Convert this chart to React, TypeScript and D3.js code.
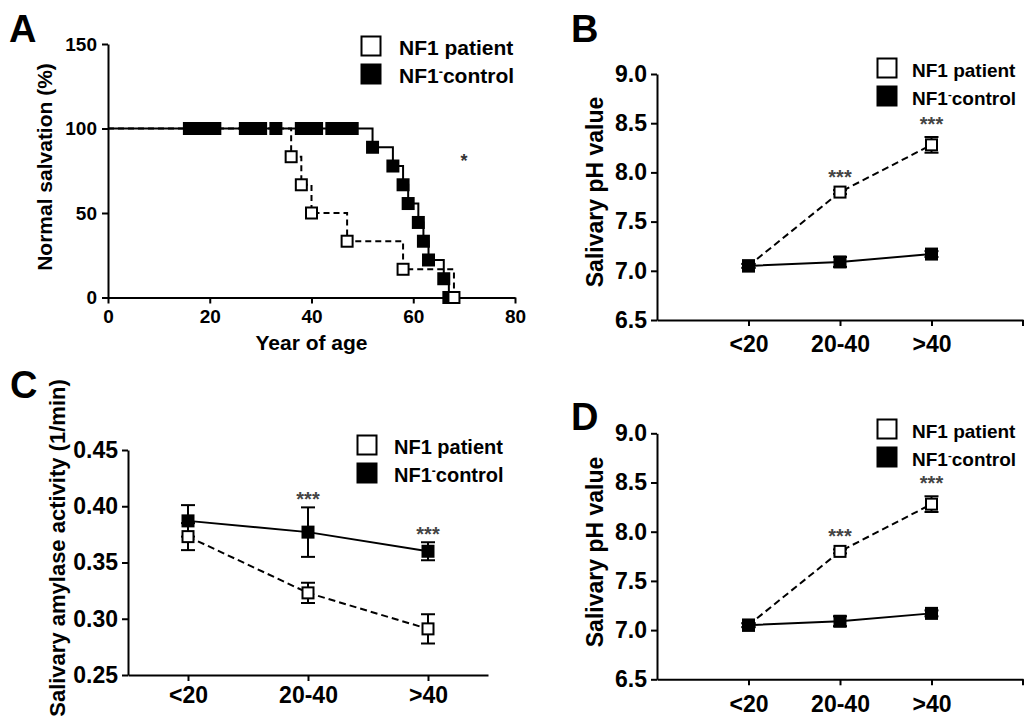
import React, { useEffect, useRef } from 'react'
import * as d3 from 'd3'

const FONT = '"Liberation Sans", Arial, Helvetica, sans-serif'

// panel A: normal salivation (%) by age, Kaplan-Meier style
const ageTicks = [0, 20, 40, 60, 80]
const salivationTicks = [0, 50, 100, 150]
const controlEventAge = [52, 56, 58, 59, 61, 62, 63, 66, 67]
const controlEventPct = [88.9, 77.8, 66.7, 55.6, 44.4, 33.3, 22.2, 11.1, 0]
const controlCensoredAge = [16, 17, 18, 19, 20, 21, 27, 28, 29, 30, 33, 38, 39, 40, 41, 44, 45, 46, 47, 48]
const patientEventAge = [36, 38, 40, 47, 58, 68]
const patientEventPct = [83.3, 66.7, 50, 33.3, 16.7, 0]

// panels B-D: age groups
const ageGroups = ['<20', '20-40', '>40']
const phTicks = [6.5, 7.0, 7.5, 8.0, 8.5, 9.0]
const phPatient = [7.05, 7.8, 8.28]
const phPatientErr = [0.02, 0.02, 0.08]
const phControl = [7.05, 7.09, 7.17]
const phControlErr = [0.02, 0.05, 0.03]
const amylaseTicks = [0.25, 0.3, 0.35, 0.4, 0.45]
const amylasePatient = [0.373, 0.323, 0.291]
const amylasePatientErr = [0.012, 0.009, 0.013]
const amylaseControl = [0.387, 0.377, 0.36]
const amylaseControlErr = [0.014, 0.022, 0.008]
const starsPh = ['', '***', '***']
const starsAmylase = ['', '***', '***']

type G = d3.Selection<SVGGElement, unknown, null, undefined>

function styleAxis(g: G, fs: number) {
  g.attr('font-family', FONT).attr('font-size', fs)
  g.select('.domain').attr('stroke-width', 2)
  g.selectAll('.tick line').attr('stroke-width', 2)
  g.selectAll('.tick text').attr('font-weight', 'bold').attr('fill', '#000')
}

function square(g: G, cx: number, cy: number, size: number, filled: boolean) {
  g.append('rect')
    .attr('x', cx - size / 2).attr('y', cy - size / 2)
    .attr('width', size).attr('height', size)
    .attr('fill', filled ? '#000' : '#fff')
    .attr('stroke', '#000').attr('stroke-width', 2)
}

function legend(g: G, x: number, y: number, fs: number, textDx: number) {
  square(g, x + 10, y + 10, 19, false)
  square(g, x + 10, y + 38, 19, true)
  const t1 = g.append('text').attr('x', x + textDx).attr('y', y + 19)
    .attr('font-family', FONT).attr('font-size', fs).attr('font-weight', 'bold')
  t1.text('NF1 patient')
  const t2 = g.append('text').attr('x', x + textDx).attr('y', y + 47)
    .attr('font-family', FONT).attr('font-size', fs).attr('font-weight', 'bold')
  t2.append('tspan').text('NF1')
  t2.append('tspan').attr('dy', -7).attr('font-size', fs * 0.6).text('-')
  t2.append('tspan').attr('dy', 7).text('control')
}

function yTitle(g: G, cx: number, cy: number, fs: number, label: string) {
  g.append('text')
    .attr('transform', `translate(${cx},${cy}) rotate(-90)`)
    .attr('text-anchor', 'middle').attr('dy', '0.35em')
    .attr('font-family', FONT).attr('font-size', fs).attr('font-weight', 'bold')
    .text(label)
}

function panelLetter(g: G, x: number, y: number, letter: string) {
  g.append('text').attr('x', x).attr('y', y)
    .attr('font-family', FONT).attr('font-size', 38).attr('font-weight', 'bold')
    .text(letter)
}

function drawSurvival(g: G) {
  const x = d3.scaleLinear().domain([0, 80]).range([108, 515])
  const y = d3.scaleLinear().domain([0, 150]).range([297.5, 44])

  const xa = g.append('g').attr('transform', `translate(0,${y(0)})`)
    .call(d3.axisBottom(x).tickValues(ageTicks).tickSize(6).tickSizeOuter(0).tickPadding(6))
  styleAxis(xa, 19)
  const ya = g.append('g').attr('transform', `translate(${x(0)},0)`)
    .call(d3.axisLeft(y).tickValues(salivationTicks).tickSize(6).tickSizeOuter(0).tickPadding(5))
  styleAxis(ya, 19)

  const line = d3.line<[number, number]>().x(d => x(d[0])).y(d => y(d[1])).curve(d3.curveStepAfter)
  const patientPts: [number, number][] = [[0, 100], ...patientEventAge.map((a, i) => [a, patientEventPct[i]] as [number, number])]
  const controlPts: [number, number][] = [[0, 100], ...controlEventAge.map((a, i) => [a, controlEventPct[i]] as [number, number])]

  g.append('path').attr('d', line(patientPts)).attr('fill', 'none')
    .attr('stroke', '#000').attr('stroke-width', 2).attr('stroke-dasharray', '6,4')
  g.append('path').attr('d', line(controlPts)).attr('fill', 'none')
    .attr('stroke', '#000').attr('stroke-width', 2)

  controlCensoredAge.forEach(a => square(g, x(a), y(100), 11, true))
  controlEventAge.forEach((a, i) => square(g, x(a), y(controlEventPct[i]), 11, true))
  patientEventAge.forEach((a, i) => square(g, x(a), y(patientEventPct[i]), 11, false))

  g.append('text').attr('x', x(70)).attr('y', y(83.3) + 10).attr('text-anchor', 'middle')
    .attr('font-family', FONT).attr('font-size', 18).attr('font-weight', 'bold').attr('fill', '#333')
    .text('*')

  g.append('text').attr('x', x(40)).attr('y', 350).attr('text-anchor', 'middle')
    .attr('font-family', FONT).attr('font-size', 21).attr('font-weight', 'bold')
    .text('Year of age')
  yTitle(g, 45, 167, 21, 'Normal salvation (%)')
  legend(g, 361, 36, 21, 38)
  panelLetter(g, 9, 42, 'A')
}

interface GroupOpts {
  xr: [number, number]
  yr: [number, number]
  pad: number
  yDomain: [number, number]
  yTicks: number[]
  yFormat: string
  fs: number
  xPad: number
  endTick: boolean
  patient: number[]
  patientErr: number[]
  control: number[]
  controlErr: number[]
  stars: string[]
  starGap: number
  dash: string
  title: string
  titleFs: number
  titlePos: [number, number]
  legendPos: [number, number]
  legendFs: number
  legendDx: number
  letter: string
  letterPos: [number, number]
}

function drawGroups(g: G, o: GroupOpts) {
  const x = d3.scalePoint<string>().domain(ageGroups).range(o.xr).padding(o.pad)
  const y = d3.scaleLinear().domain(o.yDomain).range(o.yr)
  const x0 = o.xr[0]

  const xa = g.append('g').attr('transform', `translate(0,${o.yr[0]})`)
    .call(d3.axisBottom(x).tickSize(6).tickSizeOuter(0).tickPadding(o.xPad))
  styleAxis(xa, o.fs)
  if (o.endTick) {
    xa.append('line').attr('x1', o.xr[1]).attr('x2', o.xr[1]).attr('y1', 0).attr('y2', 6)
      .attr('stroke', '#000').attr('stroke-width', 2)
  }
  const ya = g.append('g').attr('transform', `translate(${x0},0)`)
    .call(d3.axisLeft(y).tickValues(o.yTicks).tickFormat(d3.format(o.yFormat) as any)
      .tickSize(6).tickSizeOuter(0).tickPadding(4))
  styleAxis(ya, o.fs)

  const line = d3.line<number>().x((_, i) => x(ageGroups[i]) as number).y(d => y(d))
  g.append('path').attr('d', line(o.patient)).attr('fill', 'none')
    .attr('stroke', '#000').attr('stroke-width', 2).attr('stroke-dasharray', o.dash)
  g.append('path').attr('d', line(o.control)).attr('fill', 'none')
    .attr('stroke', '#000').attr('stroke-width', 2)

  const errBars = (vals: number[], errs: number[]) => {
    vals.forEach((v, i) => {
      const cx = x(ageGroups[i]) as number
      const top = y(v + errs[i]), bot = y(v - errs[i])
      g.append('line').attr('x1', cx).attr('x2', cx).attr('y1', top).attr('y2', bot)
        .attr('stroke', '#000').attr('stroke-width', 2)
      ;[top, bot].forEach(yy => g.append('line').attr('x1', cx - 7).attr('x2', cx + 7)
        .attr('y1', yy).attr('y2', yy).attr('stroke', '#000').attr('stroke-width', 2))
    })
  }
  errBars(o.patient, o.patientErr)
  errBars(o.control, o.controlErr)
  o.patient.forEach((v, i) => square(g, x(ageGroups[i]) as number, y(v), 11, false))
  o.control.forEach((v, i) => square(g, x(ageGroups[i]) as number, y(v), 11, true))

  o.stars.forEach((s, i) => {
    if (!s) return
    const top = Math.min(y(o.patient[i] + o.patientErr[i]), y(o.control[i] + o.controlErr[i]))
    g.append('text').attr('x', x(ageGroups[i]) as number).attr('y', top - o.starGap + 11)
      .attr('text-anchor', 'middle').attr('font-family', FONT).attr('font-size', 20)
      .attr('font-weight', 'bold').attr('fill', '#444').text(s)
  })

  yTitle(g, o.titlePos[0], o.titlePos[1], o.titleFs, o.title)
  legend(g, o.legendPos[0], o.legendPos[1], o.legendFs, o.legendDx)
  panelLetter(g, o.letterPos[0], o.letterPos[1], o.letter)
}

export default function App() {
  const ref = useRef<SVGSVGElement>(null)
  useEffect(() => {
    const svg = d3.select(ref.current)
    svg.selectAll('*').remove()
    drawSurvival(svg.append('g') as unknown as G)
    const ph = {
      xr: [657, 1023] as [number, number], pad: 1, yDomain: [6.5, 9] as [number, number],
      yTicks: phTicks, yFormat: '.1f', fs: 23, endTick: true,
      patient: phPatient, patientErr: phPatientErr, control: phControl, controlErr: phControlErr,
      stars: starsPh, starGap: 17, dash: '7,4', title: 'Salivary pH value', titleFs: 23,
      legendFs: 19, legendDx: 35,
    }
    drawGroups(svg.append('g') as unknown as G, {
      ...ph, yr: [320, 74], xPad: 10, titlePos: [595, 192], legendPos: [877, 58], letter: 'B', letterPos: [571, 42],
    })
    drawGroups(svg.append('g') as unknown as G, {
      ...ph, yr: [679.3, 433.3], xPad: 10, titlePos: [595, 552], legendPos: [877, 419], letter: 'D', letterPos: [571, 430],
    })
    drawGroups(svg.append('g') as unknown as G, {
      xr: [128, 488], yr: [675, 450], pad: 0.5, yDomain: [0.25, 0.45],
      yTicks: amylaseTicks, yFormat: '.2f', fs: 23, xPad: 6, endTick: false,
      patient: amylasePatient, patientErr: amylasePatientErr, control: amylaseControl, controlErr: amylaseControlErr,
      stars: starsAmylase, starGap: 12, dash: '7,4', title: 'Salivary amylase activity (1/min)', titleFs: 22,
      titlePos: [57, 548], legendPos: [357, 435], legendFs: 20, legendDx: 37, letter: 'C', letterPos: [10, 398],
    })
  }, [])
  return (
    <svg ref={ref} width={1024} height={724}
      style={{ position: 'absolute', left: 0, top: 0, background: '#fff', display: 'block' }} />
  )
}
